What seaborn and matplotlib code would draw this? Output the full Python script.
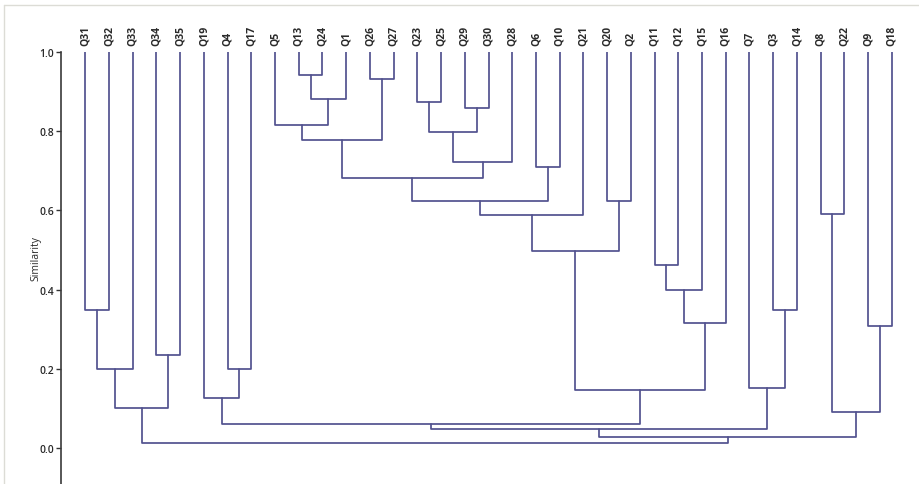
import matplotlib
matplotlib.use("Agg")
import matplotlib.pyplot as plt
from matplotlib.lines import Line2D
import seaborn as sns
import pandas as pd

# ---- data -------------------------------------------------------------
leaves = ['Q31', 'Q32', 'Q33', 'Q34', 'Q35', 'Q19', 'Q4', 'Q17', 'Q5', 'Q13',
          'Q24', 'Q1', 'Q26', 'Q27', 'Q23', 'Q25', 'Q29', 'Q30', 'Q28', 'Q6',
          'Q10', 'Q21', 'Q20', 'Q2', 'Q11', 'Q12', 'Q15', 'Q16', 'Q7', 'Q3',
          'Q14', 'Q8', 'Q22', 'Q9', 'Q18']

# each merge i creates cluster "c{i}"
merge_left = ['Q31', 'c0', 'Q34', 'c1', 'Q4', 'Q19', 'Q13', 'c6', 'Q5', 'Q26',
              'c8', 'Q23', 'Q29', 'c11', 'c13', 'c10', 'Q6', 'c15', 'c17', 'Q20',
              'c18', 'Q11', 'c21', 'c22', 'c20', 'c5', 'Q3', 'Q7', 'c25', 'Q8',
              'Q9', 'c29', 'c28', 'c3']
merge_right = ['Q32', 'Q33', 'Q35', 'c2', 'Q17', 'c4', 'Q24', 'Q1', 'c7', 'Q27',
               'c9', 'Q25', 'Q30', 'c12', 'Q28', 'c14', 'Q10', 'c16', 'Q21', 'Q2',
               'c19', 'Q12', 'Q15', 'Q16', 'c23', 'c24', 'Q14', 'c26', 'c27', 'Q22',
               'Q18', 'c30', 'c31', 'c32']
merge_sim = [0.348, 0.200, 0.235, 0.100, 0.200, 0.125, 0.942, 0.882, 0.816, 0.931,
             0.779, 0.873, 0.858, 0.799, 0.722, 0.681, 0.709, 0.624, 0.588, 0.624,
             0.497, 0.462, 0.399, 0.315, 0.146, 0.061, 0.348, 0.152, 0.048, 0.591,
             0.307, 0.091, 0.027, 0.012]

y_ticks = [0.0, 0.2, 0.4, 0.6, 0.8, 1.0]

# ---- build link segments ---------------------------------------------
pos = {name: float(i) for i, name in enumerate(leaves)}
hgt = {name: 1.0 for name in leaves}
rows = []
for i, (a, b, s) in enumerate(zip(merge_left, merge_right, merge_sim)):
    pts = [(pos[a], hgt[a]), (pos[a], s), (pos[b], s), (pos[b], hgt[b])]
    for k, (x, y) in enumerate(pts):
        rows.append({'link': i, 'order': k, 'x': x, 'y': y})
    pos[f'c{i}'] = (pos[a] + pos[b]) / 2
    hgt[f'c{i}'] = s
df = pd.DataFrame(rows)

# ---- plot -------------------------------------------------------------
sns.set_style("white")
plt.rcParams['font.family'] = ['Open Sans', 'DejaVu Sans']

W, H = 920, 485
fig = plt.figure(figsize=(W / 100, H / 100), dpi=100)
ax = fig.add_axes([61 / W, 0.0, 1 - 61 / W, (485 - 53) / H])

line_color = '#52528f'
sns.lineplot(data=df, x='x', y='y', units='link', estimator=None, sort=False,
             color=line_color, linewidth=1.25, ax=ax, legend=False)

ax.set_xlim(-1.024, 35.19)
ax.set_ylim(-0.091, 1.0)

ax.set_yticks(y_ticks)
ax.set_yticklabels([f'{t:.1f}' for t in y_ticks], fontsize=7.5, color='#2a2a2a',
                   fontweight='semibold')
ax.tick_params(axis='y', direction='out', length=3.5, width=1.0, color='#333333',
               pad=1.5, left=True)

ax.xaxis.tick_top()
ax.set_xticks(range(len(leaves)))
ax.set_xticklabels(leaves, rotation=90, fontsize=7.5, color='#2a2a2a', fontweight='bold')
ax.tick_params(axis='x', length=0, pad=5, top=True, bottom=False)

for side in ['top', 'right', 'bottom']:
    ax.spines[side].set_visible(False)
ax.spines['left'].set_color('#3a3a3a')
ax.spines['left'].set_linewidth(1.2)

ax.set_xlabel('')
ax.set_ylabel('Similarity', fontsize=7.5, color='#2a2a2a')
ax.yaxis.set_label_coords(-0.023, 0.525)

# light screenshot-style frame (top & left)
fig.add_artist(Line2D([4 / W, 4 / W], [0, 1 - 6 / H], transform=fig.transFigure,
                      color='#dcdcd6', linewidth=1.0))
fig.add_artist(Line2D([4 / W, 1], [1 - 6 / H, 1 - 6 / H], transform=fig.transFigure,
                      color='#dcdcd6', linewidth=1.0))

fig.savefig('out.png', dpi=100, facecolor='white')
